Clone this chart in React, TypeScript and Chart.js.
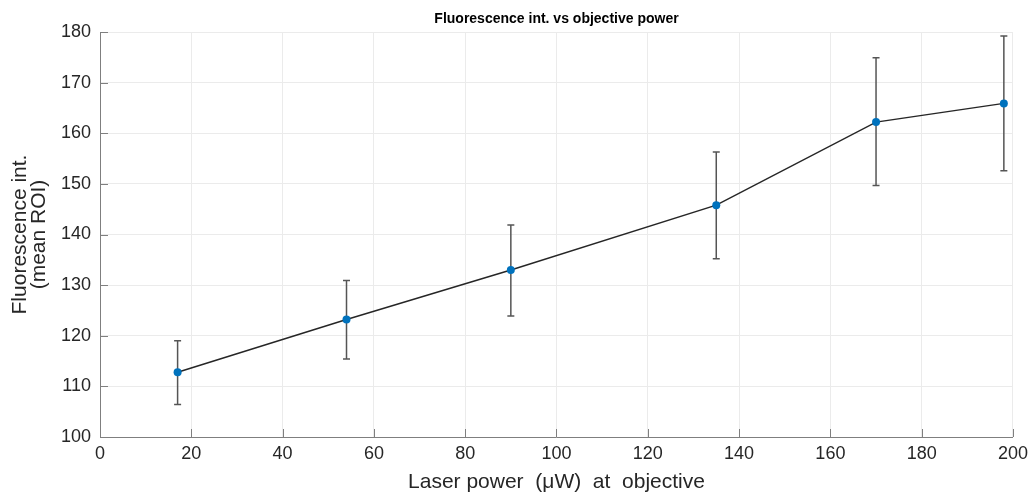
import React, { useEffect, useRef } from 'react';
import { Chart, registerables } from 'chart.js';

Chart.register(...registerables);

// Measured fluorescence (mean ROI) against laser power at the objective
const laserPower = [17, 54, 90, 135, 170, 198];
const meanIntensity = [112.8, 123.2, 133.0, 145.8, 162.2, 165.9];
const errorUpper = [119.0, 130.9, 141.9, 156.3, 174.9, 179.2];
const errorLower = [106.4, 115.4, 123.9, 135.2, 149.7, 152.6];

const xTickValues = [0, 20, 40, 60, 80, 100, 120, 140, 160, 180, 200];
const yTickValues = [100, 110, 120, 130, 140, 150, 160, 170, 180];

const FONT = "'Liberation Sans', Arial, Helvetica, sans-serif";
const TEXT = '#262626';
const AXIS = '#7f7f7f';
const GRID = '#ebebeb';

// Vertical error bars with caps, drawn beneath the line and markers
const errorBarPlugin = {
  id: 'errorBars',
  beforeDatasetsDraw(chart: any) {
    const { ctx, scales } = chart;
    const x = scales.x;
    const y = scales.y;
    ctx.save();
    ctx.strokeStyle = '#555555';
    ctx.lineWidth = 1.5;
    const cap = 3.5;
    laserPower.forEach((p, i) => {
      const px = x.getPixelForValue(p);
      const top = y.getPixelForValue(errorUpper[i]);
      const bot = y.getPixelForValue(errorLower[i]);
      ctx.beginPath();
      ctx.moveTo(px, top);
      ctx.lineTo(px, bot);
      ctx.moveTo(px - cap, top);
      ctx.lineTo(px + cap, top);
      ctx.moveTo(px - cap, bot);
      ctx.lineTo(px + cap, bot);
      ctx.stroke();
    });
    ctx.restore();
  },
};

// Short tick marks pointing into the plot area from the left and bottom axes
const innerTickPlugin = {
  id: 'innerTicks',
  beforeDatasetsDraw(chart: any) {
    const { ctx, scales, chartArea } = chart;
    const len = 8;
    ctx.save();
    ctx.strokeStyle = AXIS;
    ctx.lineWidth = 1;
    ctx.beginPath();
    xTickValues.forEach((v) => {
      const px = Math.round(scales.x.getPixelForValue(v)) + 0.5;
      ctx.moveTo(px, chartArea.bottom);
      ctx.lineTo(px, chartArea.bottom - len);
    });
    yTickValues.forEach((v) => {
      const py = Math.round(scales.y.getPixelForValue(v)) + 0.5;
      ctx.moveTo(chartArea.left, py);
      ctx.lineTo(chartArea.left + len, py);
    });
    ctx.stroke();
    ctx.restore();
  },
};

export default function App() {
  const canvasRef = useRef<HTMLCanvasElement | null>(null);

  useEffect(() => {
    const canvas = canvasRef.current;
    if (!canvas) return;
    const chart = new Chart(canvas, {
      type: 'line',
      data: {
        datasets: [
          {
            data: laserPower.map((p, i) => ({ x: p, y: meanIntensity[i] })),
            borderColor: '#262626',
            borderWidth: 1.5,
            pointRadius: 4,
            pointBackgroundColor: '#0072BD',
            pointBorderColor: '#0072BD',
            pointBorderWidth: 0,
            tension: 0,
            fill: false,
          },
        ],
      },
      options: {
        animation: false,
        responsive: false,
        layout: { padding: { left: 0, right: 16, top: 0, bottom: 0 } },
        plugins: {
          legend: { display: false },
          tooltip: { enabled: false },
          title: {
            display: true,
            text: 'Fluorescence int. vs objective power',
            fullSize: false,
            color: '#000000',
            font: { family: FONT, size: 14, weight: 'bold', lineHeight: 1.2 },
            padding: { top: 11, bottom: 4.2 },
          },
        },
        scales: {
          x: {
            type: 'linear',
            min: 0,
            max: 200,
            afterFit(scale: any) {
              scale.height = 56;
            },
            afterBuildTicks(scale: any) {
              scale.ticks = xTickValues.map((v) => ({ value: v }));
            },
            ticks: {
              color: TEXT,
              font: { family: FONT, size: 18 },
              padding: 6,
              maxRotation: 0,
            },
            grid: { color: GRID, drawTicks: false, lineWidth: 1 },
            border: { display: true, color: AXIS, width: 1 },
            title: {
              display: true,
              text: 'Laser power  (μW)  at  objective',
              color: TEXT,
              font: { family: FONT, size: 21, lineHeight: 1.0 },
              padding: { top: 0, bottom: 0 },
            },
          },
          y: {
            type: 'linear',
            min: 100,
            max: 180,
            afterFit(scale: any) {
              scale.width = 100;
            },
            afterBuildTicks(scale: any) {
              scale.ticks = yTickValues.map((v) => ({ value: v }));
            },
            ticks: {
              color: TEXT,
              font: { family: FONT, size: 18 },
              padding: 9,
            },
            grid: { color: GRID, drawTicks: false, lineWidth: 1 },
            border: { display: true, color: AXIS, width: 1 },
            title: {
              display: true,
              text: ['Fluorescence int.', '(mean ROI)'],
              color: TEXT,
              font: { family: FONT, size: 21, lineHeight: 0.88 },
              padding: { top: 11, bottom: 0 },
            },
          },
        },
      },
      plugins: [errorBarPlugin, innerTickPlugin],
    });
    return () => chart.destroy();
  }, []);

  return (
    <div
      style={{
        position: 'fixed',
        left: 0,
        top: 0,
        width: 1034,
        height: 493,
        background: '#ffffff',
      }}
    >
      <canvas ref={canvasRef} width={1034} height={493} />
    </div>
  );
}
